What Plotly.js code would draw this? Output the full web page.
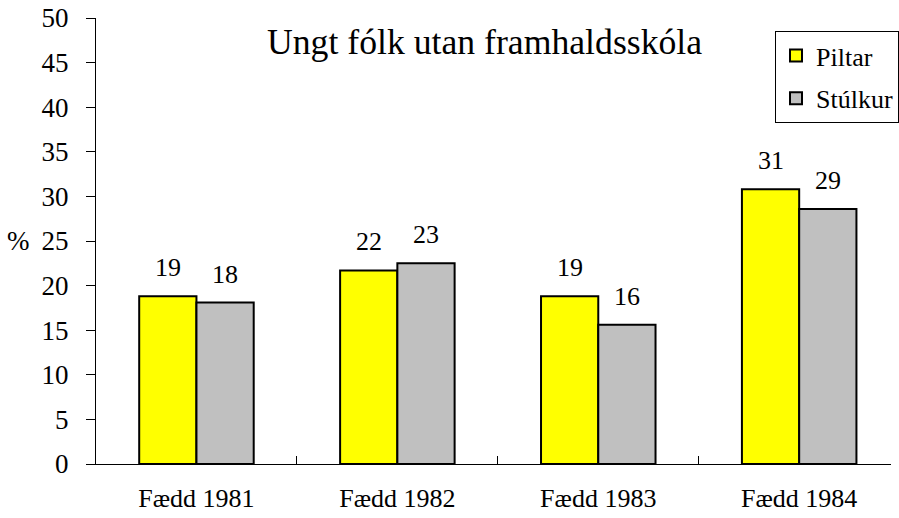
<!DOCTYPE html>
<html><head><meta charset="utf-8">
<script src="https://cdn.plot.ly/plotly-3.0.1.min.js"></script>
<style>
html,body{margin:0;padding:0;background:#fff}
#chart{width:899px;height:518px}
#chart .modebar-container{display:none !important}
</style>
</head><body>
<div id="chart"></div>
<script>
const categories = ['Fædd 1981', 'Fædd 1982', 'Fædd 1983', 'Fædd 1984'];
const piltar = [18.8, 21.7, 18.8, 30.8];
const stulkur = [18.1, 22.5, 15.6, 28.6];
const seriesNames = ['Piltar', 'Stúlkur'];
const yTicks = [0, 5, 10, 15, 20, 25, 30, 35, 40, 45, 50];
const chartTitle = 'Ungt fólk utan framhaldsskóla';
const yLabel = '%';

const FONT = 'Liberation Serif';
const colors = ['#FFFF00', '#C0C0C0'];
const series = [piltar, stulkur];
const barOffset = 0.1425;

const traces = series.map((vals, s) => ({
  type: 'bar',
  name: seriesNames[s],
  x: categories,
  y: vals,
  legendgroup: 'g' + s,
  marker: {color: colors[s], line: {color: '#000', width: 2}},
  hoverinfo: 'none'
}));

const annotations = [];
series.forEach((vals, s) => {
  vals.forEach((v, i) => {
    annotations.push({
      x: i + (s === 0 ? -barOffset : barOffset), y: v, xref: 'x', yref: 'y',
      text: String(Math.round(v)), showarrow: false,
      yanchor: 'bottom', xanchor: 'center', yshift: 12,
      font: {family: FONT, size: 26, color: '#000'}
    });
  });
});
annotations.push({
  x: -0.08, xref: 'paper', y: 25, yref: 'y', text: yLabel, showarrow: false,
  xanchor: 'right', yanchor: 'middle', font: {family: FONT, size: 27, color: '#000'}
});
annotations.push({
  x: (488 - 96) / 803, xref: 'paper', y: (464 - 42) / 446, yref: 'paper',
  text: chartTitle, showarrow: false, xanchor: 'center', yanchor: 'middle',
  font: {family: FONT, size: 35.7, color: '#000'}
});

const layout = {
  width: 899, height: 518,
  margin: {l: 96, r: 0, t: 18, b: 54},
  paper_bgcolor: '#fff', plot_bgcolor: '#fff',
  barmode: 'group', bargap: 0.43, bargroupgap: 0,
  xaxis: {
    type: 'category', range: [-0.5, 3.457], showline: true, linecolor: '#000', linewidth: 1,
    ticks: 'inside', tickson: 'boundaries', ticklen: 8, tickcolor: '#000', tickwidth: 1,
    showgrid: false, zeroline: false, ticklabelstandoff: 11,
    tickfont: {family: FONT, size: 26, color: '#000'}
  },
  yaxis: {
    range: [0, 50], tickvals: yTicks, ticktext: yTicks.map(String),
    showline: true, linecolor: '#000', linewidth: 1,
    ticks: 'outside', ticklen: 9, tickcolor: '#000', tickwidth: 1,
    showgrid: false, zeroline: false, ticklabelstandoff: 12,
    tickfont: {family: FONT, size: 27, color: '#000'}
  },
  legend: {
    x: (782 - 96) / 803, y: (464 - 31) / 446, xanchor: 'left', yanchor: 'top',
    bgcolor: '#fff', bordercolor: '#000', borderwidth: 1,
    font: {family: FONT, size: 26, color: '#000'},
    traceorder: 'grouped', tracegroupgap: 6, itemwidth: 30
  },
  annotations: annotations,
  showlegend: true
};

Plotly.newPlot('chart', traces, layout);
</script>
</body></html>
